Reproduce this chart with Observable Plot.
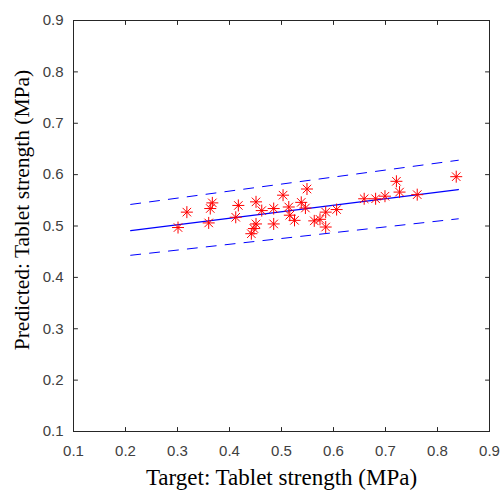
<!DOCTYPE html>
<html><head><meta charset="utf-8">
<script src="https://cdn.jsdelivr.net/npm/d3@7"></script>
<script src="https://cdn.jsdelivr.net/npm/@observablehq/plot@0.6"></script>
<style>body{margin:0;background:#fff}</style>
</head><body><div id="chart"></div>
<script>
const targetX = [0.301,0.318,0.360,0.363,0.367,0.412,0.417,0.442,0.447,0.451,0.451,0.462,0.485,0.485,0.503,0.514,0.516,0.525,0.538,0.546,0.549,0.563,0.574,0.585,0.585,0.606,0.659,0.681,0.699,0.721,0.727,0.761,0.836];
const predictedY = [0.497,0.527,0.506,0.534,0.545,0.517,0.540,0.485,0.495,0.504,0.547,0.530,0.534,0.504,0.560,0.537,0.521,0.511,0.546,0.535,0.572,0.510,0.513,0.527,0.498,0.532,0.553,0.553,0.558,0.587,0.566,0.561,0.596];
const fitX = [0.21, 0.84];
const fitY = [0.491, 0.571];
const upperY = [0.542, 0.628];
const lowerY = [0.443, 0.514];
const tickValues = [0.1,0.2,0.3,0.4,0.5,0.6,0.7,0.8,0.9];
const xLabel = "Target: Tablet strength (MPa)";
const yLabel = "Predicted: Tablet strength (MPa)";

const points = targetX.map((x, i) => ({x, y: predictedY[i]}));
const fit = fitX.map((x, i) => ({x, y: fitY[i], up: upperY[i], lo: lowerY[i]}));

const star = {draw(ctx, size) {
  const r = Math.sqrt(size / Math.PI), d = r * Math.SQRT1_2;
  ctx.moveTo(-r, 0); ctx.lineTo(r, 0);
  ctx.moveTo(0, -r); ctx.lineTo(0, r);
  ctx.moveTo(-d, -d); ctx.lineTo(d, d);
  ctx.moveTo(-d, d); ctx.lineTo(d, -d);
}};
const tickShape = {draw(ctx, l) { ctx.moveTo(0, 0); ctx.lineTo(0, -l); }};
const axisColor = "#262626";
const tickOpts = {length: 4, anchor: "start", shape: tickShape, stroke: axisColor, strokeWidth: 1};
const serif = "'Liberation Serif', 'Times New Roman', serif";

const chart = Plot.plot({
  width: 501, height: 493,
  marginLeft: 73, marginRight: 12, marginTop: 20, marginBottom: 62,
  style: {fontFamily: "'Liberation Sans', Arial, sans-serif", background: "#fff"},
  x: {domain: [0.1, 0.9]},
  y: {domain: [0.1, 0.9]},
  marks: [
    Plot.line(fit, {x: "x", y: "up", stroke: "#0000ff", strokeWidth: 1, strokeDasharray: "10,9"}),
    Plot.line(fit, {x: "x", y: "lo", stroke: "#0000ff", strokeWidth: 1, strokeDasharray: "10,9"}),
    Plot.line(fit, {x: "x", y: "y", stroke: "#0000ff", strokeWidth: 1.3}),
    Plot.dot(points, {x: "x", y: "y", r: 6, symbol: star, stroke: "#ff0000", strokeWidth: 1, fill: "none"}),
    Plot.frame({stroke: axisColor, strokeWidth: 1}),
    Plot.vector(tickValues, {x: d => d, frameAnchor: "bottom", rotate: 0, ...tickOpts}),
    Plot.vector(tickValues, {x: d => d, frameAnchor: "top", rotate: 180, ...tickOpts}),
    Plot.vector(tickValues, {y: d => d, frameAnchor: "left", rotate: 90, ...tickOpts}),
    Plot.vector(tickValues, {y: d => d, frameAnchor: "right", rotate: -90, ...tickOpts}),
    Plot.axisX(tickValues, {tickSize: 0, tickPadding: 14, fontSize: 15, fill: "#404040", tickFormat: d3.format(".1f"), label: null}),
    Plot.axisY(tickValues, {tickSize: 0, tickPadding: 10, fontSize: 15, fill: "#404040", tickFormat: d3.format(".1f"), label: null}),
    Plot.text([xLabel], {frameAnchor: "bottom", dy: 46, textAnchor: "middle", lineAnchor: "middle", fontFamily: serif, fontSize: 23, fill: "#000"}),
    Plot.text([yLabel], {frameAnchor: "left", dx: -51, dy: -16, rotate: -90, textAnchor: "middle", lineAnchor: "middle", fontFamily: serif, fontSize: 21.5, fill: "#000"})
  ]
});
document.getElementById("chart").append(chart);
</script>
</body></html>
